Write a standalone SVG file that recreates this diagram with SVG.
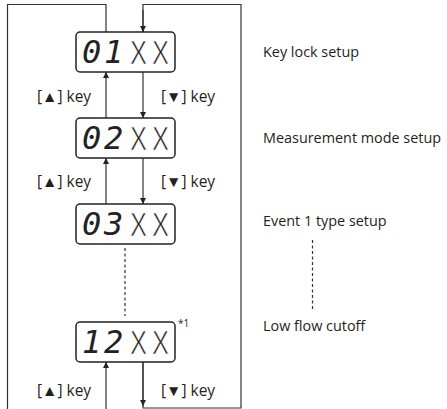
<svg xmlns="http://www.w3.org/2000/svg" width="447" height="409" viewBox="0 0 447 409">
<style>
.ln{fill:none;stroke:#333;stroke-width:1.2}
.dot{fill:none;stroke:#333;stroke-width:1.2;stroke-dasharray:3 2.5}
.box{fill:#fff;stroke:#222;stroke-width:1.5}
.dg{font-family:"DejaVu Sans Mono",monospace;font-size:32px;font-style:oblique;fill:#222}
.xx{font-family:"Liberation Sans",Arial,sans-serif;font-size:33px;fill:#222;stroke:#fff;stroke-width:0.7}
.lb{font-family:"Open Sans","Noto Sans",sans-serif;font-size:15.5px;fill:#231f20}
.rt{font-family:"Open Sans","Noto Sans",sans-serif;font-size:14.4px;fill:#231f20}
.st{font-family:"Open Sans","Noto Sans",sans-serif;font-size:10px;fill:#231f20}
</style>
<defs>
<marker id="ah" markerWidth="6" markerHeight="8" refX="6" refY="4" orient="auto" markerUnits="userSpaceOnUse">
<path d="M0,1 L6,4 L0,7 Z" fill="#222"/>
</marker>
</defs>
<g id="connectors">
<polyline class="ln" points="106,32 106,4.5 7.5,4.5 7.5,409"/>
<polyline class="ln" points="143,362 143,408 241,408 241,4.5 143,4.5 143,32" />
<line class="ln" x1="143" y1="362" x2="143" y2="406" marker-end="url(#ah)"/>
<line class="ln" x1="143" y1="10" x2="143" y2="32" marker-end="url(#ah)"/>
<line class="ln" x1="106" y1="118" x2="106" y2="72" marker-end="url(#ah)"/>
<line class="ln" x1="143" y1="72" x2="143" y2="118" marker-end="url(#ah)"/>
<line class="ln" x1="106" y1="204" x2="106" y2="158" marker-end="url(#ah)"/>
<line class="ln" x1="143" y1="158" x2="143" y2="204" marker-end="url(#ah)"/>
<line class="ln" x1="106" y1="409" x2="106" y2="362" marker-end="url(#ah)"/>
<line class="dot" x1="125" y1="248" x2="125" y2="316"/>
<line class="dot" x1="312.5" y1="240" x2="312.5" y2="310"/>
</g>
<g id="labels">
<text class="lb" x="37" y="102">[▲] key</text>
<text class="lb" x="161" y="102">[▼] key</text>
<text class="lb" x="37" y="187">[▲] key</text>
<text class="lb" x="161" y="187">[▼] key</text>
<text class="lb" x="37" y="396">[▲] key</text>
<text class="lb" x="161" y="396">[▼] key</text>
</g>
<g id="node01">
<rect class="box" x="76" y="32" width="99" height="40" rx="4"/>
<text class="dg" x="82" y="63">0</text><text class="dg" x="104" y="63">1</text>
<text class="xx" x="130" y="64" textLength="17" lengthAdjust="spacingAndGlyphs">X</text>
<text class="xx" x="152" y="64" textLength="17" lengthAdjust="spacingAndGlyphs">X</text>
<text class="rt" x="263" y="57">Key lock setup</text>
</g>
<g id="node02">
<rect class="box" x="76" y="118" width="99" height="40" rx="4"/>
<text class="dg" x="82" y="149">0</text><text class="dg" x="104" y="149">2</text>
<text class="xx" x="130" y="150" textLength="17" lengthAdjust="spacingAndGlyphs">X</text>
<text class="xx" x="152" y="150" textLength="17" lengthAdjust="spacingAndGlyphs">X</text>
<text class="rt" x="263" y="143">Measurement mode setup</text>
</g>
<g id="node03">
<rect class="box" x="76" y="204" width="99" height="40" rx="4"/>
<text class="dg" x="82" y="235">0</text><text class="dg" x="104" y="235">3</text>
<text class="xx" x="130" y="236" textLength="17" lengthAdjust="spacingAndGlyphs">X</text>
<text class="xx" x="152" y="236" textLength="17" lengthAdjust="spacingAndGlyphs">X</text>
<text class="rt" x="263" y="226">Event 1 type setup</text>
</g>
<g id="node12">
<rect class="box" x="76" y="322" width="99" height="40" rx="4"/>
<text class="dg" x="82" y="353">1</text><text class="dg" x="104" y="353">2</text>
<text class="xx" x="130" y="354" textLength="17" lengthAdjust="spacingAndGlyphs">X</text>
<text class="xx" x="152" y="354" textLength="17" lengthAdjust="spacingAndGlyphs">X</text>
<text class="st" x="178" y="327">*1</text>
<text class="rt" x="263" y="331">Low flow cutoff</text>
</g>
</svg>
